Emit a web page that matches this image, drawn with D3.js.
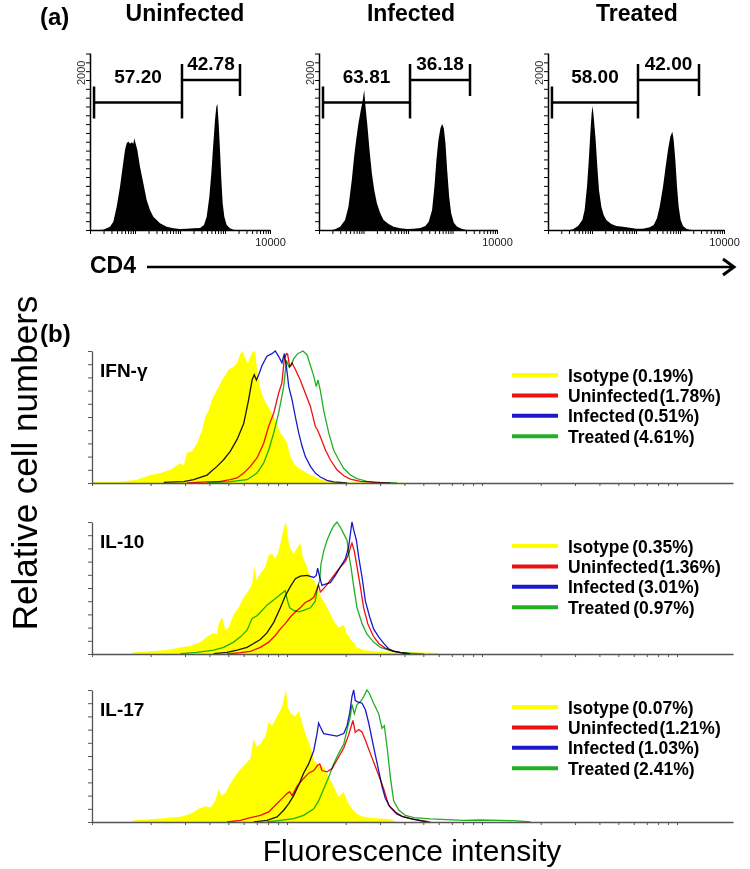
<!DOCTYPE html>
<html><head><meta charset="utf-8">
<script src="https://cdn.jsdelivr.net/npm/d3@7"></script>
<style>
body{margin:0;background:#fff}
svg{display:block}
text{font-family:"Liberation Sans",Arial,sans-serif}
</style>
</head><body>
<svg id="c" width="750" height="869"></svg>
<script>
// ================= DATA =================
// Panel (a): CD4 histograms. x = log10(CD4 intensity), y = cell count
const cd4Groups = ["Uninfected", "Infected", "Treated"];
const cd4Uninfected = [[0.20,0],[0.296,4],[0.444,44],[0.519,111],[0.593,311],[0.667,578],[0.726,844],[0.778,1067],[0.815,1156],[0.852,1180],[0.889,1150],[0.926,1170],[0.963,1150],[0.985,1222],[1.015,1150],[1.052,1067],[1.111,844],[1.185,622],[1.259,400],[1.333,267],[1.407,178],[1.556,89],[1.704,44],[1.852,22],[2.000,13],[2.148,18],[2.296,22],[2.444,27],[2.533,67],[2.593,178],[2.652,444],[2.696,756],[2.741,1156],[2.778,1467],[2.807,1644],[2.830,1680],[2.859,1422],[2.889,1067],[2.919,667],[2.948,356],[2.985,178],[3.037,67],[3.111,22],[3.185,4],[3.25,0]];
const cd4Infected = [[0.30,0],[0.361,9],[0.474,44],[0.586,133],[0.662,311],[0.737,667],[0.789,978],[0.835,1200],[0.887,1422],[0.940,1600],[0.977,1711],[1.015,1867],[1.045,1644],[1.090,1378],[1.135,1067],[1.188,756],[1.241,533],[1.301,356],[1.376,222],[1.451,133],[1.564,80],[1.677,44],[1.827,22],[1.977,13],[2.128,18],[2.278,27],[2.391,53],[2.466,111],[2.541,267],[2.594,578],[2.639,933],[2.684,1200],[2.729,1356],[2.767,1413],[2.805,1356],[2.842,1156],[2.880,800],[2.925,444],[2.970,222],[3.030,98],[3.105,44],[3.218,13],[3.293,4],[3.33,0]];
const cd4Treated = [[0.50,0],[0.568,9],[0.682,53],[0.780,133],[0.833,267],[0.886,578],[0.932,978],[0.962,1289],[0.992,1556],[1.015,1653],[1.045,1467],[1.083,1200],[1.121,844],[1.159,533],[1.212,311],[1.265,200],[1.326,133],[1.439,80],[1.553,53],[1.705,44],[1.856,31],[2.008,18],[2.159,18],[2.311,36],[2.402,67],[2.477,156],[2.538,311],[2.614,578],[2.674,844],[2.727,1067],[2.780,1244],[2.826,1311],[2.856,1200],[2.894,933],[2.932,578],[2.970,311],[3.015,133],[3.068,53],[3.144,18],[3.220,4],[3.26,0]];
// gates: [left start, split, right end] in CD4 intensity
const cd4Gates = [[1.23,110.7,2154],[1.23,111,2473],[1.23,111,2704]];
const cd4GateLevels = [1700, 2000];   // counts at which gate bars sit
const cd4Percents = [["57.20","42.78"],["63.81","36.18"],["58.00","42.00"]];
const cd4XTickLabels = [10000];
const cd4YTickLabels = [2000];

// Panel (b): cytokine overlays. x = log10(fluorescence), y = % of max
const cytokines = ["IFN-\u03b3", "IL-10", "IL-17"];
const overlayGroups = ["Isotype", "Uninfected", "Infected", "Treated"];

const isoIFN = [[0,1],[0.145,1],[0.231,2.5],[0.299,6],[0.350,7.5],[0.402,10],[0.453,15],[0.470,13],[0.487,23],[0.513,24],[0.538,30],[0.564,40],[0.581,50],[0.598,55],[0.615,63],[0.632,68],[0.650,73],[0.667,78],[0.684,82],[0.701,86],[0.726,88],[0.744,91],[0.761,98],[0.774,100],[0.786,94],[0.800,91],[0.812,96],[0.826,100],[0.838,99],[0.846,86],[0.860,73],[0.877,65],[0.894,60],[0.915,55],[0.932,50],[0.949,44],[0.966,38],[0.983,35],[1.000,30],[1.017,20],[1.034,15],[1.060,11],[1.085,9],[1.120,6],[1.154,4],[1.188,2],[1.239,1],[1.308,0.5],[1.479,0.3],[1.650,0]];
const uninfIFN = [[0.487,0],[0.590,0.8],[0.658,1.3],[0.709,2.5],[0.744,3.8],[0.778,7.5],[0.812,12.6],[0.846,19],[0.880,30],[0.906,43],[0.932,53],[0.957,68],[0.974,76],[0.986,94],[0.997,98],[1.003,97.7],[1.014,88],[1.026,91],[1.043,86],[1.068,78],[1.094,68],[1.120,58],[1.145,43],[1.157,40],[1.171,35],[1.197,25],[1.222,17.6],[1.256,10],[1.291,5.5],[1.325,3],[1.376,1.3],[1.444,0.5],[1.530,0]];
const infIFN = [[0.368,0.5],[0.470,1],[0.521,2.5],[0.590,6],[0.641,12.6],[0.675,17.6],[0.709,24],[0.744,33],[0.778,45],[0.803,63],[0.821,78],[0.832,82],[0.843,78],[0.855,82],[0.872,89],[0.897,96],[0.923,98],[0.940,100],[0.957,96],[0.974,91],[0.986,98],[0.997,88],[1.009,73],[1.026,63],[1.043,50],[1.060,38],[1.077,28],[1.094,20],[1.120,12.6],[1.145,7.5],[1.171,4.5],[1.205,2],[1.239,0.8],[1.308,0]];
const treatIFN = [[0.590,0],[0.709,1],[0.795,2.5],[0.846,7.5],[0.880,15],[0.906,25],[0.932,38],[0.957,53],[0.983,73],[0.997,93],[1.009,88],[1.021,89],[1.034,94],[1.055,98],[1.082,100],[1.103,97],[1.120,89],[1.137,81],[1.150,73],[1.159,78],[1.171,70],[1.188,55],[1.214,38],[1.239,25],[1.265,17.6],[1.291,11],[1.325,6],[1.359,3.3],[1.410,1.3],[1.479,0.5],[1.564,0]];

const isoIL10 = [[0.20,0],[0.214,1.3],[0.299,2],[0.385,3],[0.453,5],[0.504,6],[0.556,9],[0.590,13],[0.624,16],[0.641,15],[0.650,23],[0.667,28],[0.684,18],[0.701,20],[0.726,30],[0.752,35],[0.778,43],[0.803,48],[0.821,53],[0.832,66],[0.843,56],[0.863,61],[0.889,66],[0.906,75],[0.923,76],[0.940,72],[0.957,78],[0.974,89],[0.986,97],[0.995,100],[1.003,89],[1.014,81],[1.034,76],[1.055,81],[1.068,84],[1.082,73],[1.103,66],[1.120,58],[1.137,56],[1.154,51],[1.171,44],[1.188,40],[1.214,33],[1.239,25],[1.265,20],[1.291,22],[1.308,15],[1.333,10],[1.359,5],[1.393,3],[1.444,2],[1.513,1.3],[1.581,1],[1.650,1.3],[1.769,1],[1.786,0]];
const uninfIL10 = [[0.692,0],[0.761,1],[0.812,2],[0.863,5],[0.906,9],[0.940,14],[0.966,19],[0.991,23],[1.017,28],[1.043,32],[1.068,35],[1.094,39],[1.120,41],[1.137,43],[1.154,49],[1.162,52],[1.171,47],[1.197,51],[1.222,56],[1.248,61],[1.274,66],[1.299,70],[1.316,76],[1.328,82],[1.333,84],[1.345,78],[1.359,66],[1.376,51],[1.393,35],[1.414,23],[1.441,14],[1.470,8],[1.504,4.5],[1.538,2.5],[1.581,1],[1.632,0]];
const infIL10 = [[0.624,0.3],[0.692,1.3],[0.744,3],[0.795,5],[0.829,8],[0.863,11],[0.897,16],[0.932,24],[0.966,35],[0.991,44],[1.017,51],[1.043,57],[1.068,59],[1.103,59.5],[1.137,58],[1.150,59.5],[1.157,65],[1.168,58],[1.179,52],[1.197,53],[1.222,54],[1.248,59.5],[1.274,66],[1.299,72],[1.316,81],[1.325,91],[1.333,100],[1.342,94],[1.356,86],[1.368,73],[1.385,58],[1.402,40],[1.424,28],[1.444,19],[1.470,13],[1.496,8],[1.521,4],[1.547,2],[1.581,1],[1.632,0]];
const treatIL10 = [[0.453,0.3],[0.538,1.3],[0.624,3],[0.675,5],[0.726,9],[0.761,13],[0.795,18],[0.821,27],[0.846,29],[0.872,33],[0.897,37],[0.923,40],[0.949,43],[0.974,46],[0.991,48],[1.003,40],[1.014,35],[1.034,33],[1.060,32],[1.085,33],[1.120,35],[1.145,40],[1.157,51],[1.168,56],[1.174,68],[1.188,78],[1.205,86],[1.222,92],[1.239,97],[1.256,100],[1.274,96],[1.291,91],[1.308,86],[1.316,76],[1.328,66],[1.342,51],[1.359,35],[1.385,23],[1.410,15],[1.444,9],[1.479,5],[1.530,2.5],[1.581,1.3],[1.650,0.5],[1.701,0]];

const isoIL17 = [[0.20,0],[0.214,1.3],[0.299,2],[0.385,3],[0.453,4],[0.504,6],[0.547,10],[0.581,12],[0.607,11],[0.632,16],[0.650,25],[0.662,20],[0.684,22],[0.709,29],[0.735,35],[0.761,40],[0.786,44],[0.812,48],[0.829,63],[0.843,57],[0.863,59],[0.889,65],[0.906,76],[0.923,73],[0.949,80],[0.974,87],[0.986,95],[0.995,100],[1.003,87],[1.021,82],[1.043,80],[1.060,84],[1.072,78],[1.094,67],[1.120,57],[1.137,47],[1.162,43],[1.188,42],[1.214,34],[1.239,27],[1.265,19],[1.291,23],[1.308,16],[1.333,10],[1.359,6],[1.393,4],[1.444,3],[1.496,2.5],[1.530,2],[1.564,0]];
const uninfIL17 = [[0.692,0],[0.761,1.3],[0.812,3.3],[0.863,5],[0.906,7.6],[0.940,12.7],[0.974,17.7],[1.000,21.5],[1.014,23],[1.026,20],[1.051,27],[1.085,33],[1.111,37],[1.137,39],[1.157,43],[1.168,44],[1.179,39],[1.205,38],[1.231,40.5],[1.256,47],[1.291,56],[1.316,66],[1.328,72],[1.338,77],[1.350,68],[1.368,70],[1.385,68],[1.402,62],[1.427,52],[1.453,42],[1.479,32],[1.496,25],[1.521,12.7],[1.556,7.6],[1.590,4.3],[1.632,2.5],[1.684,1.3],[1.735,0]];
const infIL17 = [[0.829,0],[0.897,1.3],[0.949,3.8],[0.983,8.9],[1.009,14],[1.034,20],[1.060,28],[1.085,37],[1.111,44],[1.137,54],[1.154,67],[1.162,75],[1.171,72],[1.188,67],[1.222,66],[1.256,65],[1.291,67],[1.308,73],[1.321,82],[1.333,95],[1.342,100],[1.350,92],[1.362,91],[1.385,90],[1.402,85],[1.419,75],[1.444,57],[1.470,39],[1.487,27],[1.504,18],[1.530,11],[1.564,6],[1.598,3.8],[1.650,2],[1.718,0]];
const treatIL17 = [[0.897,0],[0.966,1.3],[1.034,2.5],[1.085,5],[1.137,10],[1.162,16],[1.188,25],[1.214,34],[1.239,44],[1.265,52],[1.291,59],[1.308,70],[1.325,80],[1.333,89],[1.345,82],[1.359,89],[1.376,91],[1.393,95],[1.410,100],[1.424,97],[1.444,90],[1.470,82],[1.487,71],[1.499,73],[1.513,57],[1.530,34],[1.547,16],[1.573,9],[1.607,5],[1.650,3.3],[1.735,2.3],[1.821,1.8],[1.906,1.3],[1.991,1.5],[2.162,1],[2.25,0]];

const legendPercents = [
  ["0.19","1.78","0.51","4.61"],
  ["0.35","1.36","3.01","0.97"],
  ["0.07","1.21","1.03","2.41"]
];
const overlayYTicks = [0,10,20,30,40,50,60,70,80,90,100];

// ================= DRAW =================
const svg = d3.select("#c");
const FONT = '"Liberation Sans", Arial, sans-serif';

function logTicks(maxV){
  const out=[];
  for(let k=0; Math.pow(10,k) <= maxV; k++){
    for(let m=1;m<=9;m++){
      const v=Math.round(m*Math.pow(10,k));
      if(v<=maxV) out.push(v);
    }
  }
  return out;
}

// ---------- Panel (a) ----------
svg.append("text").attr("x",40).attr("y",25).attr("font-size",24).attr("font-weight","bold").text("(a)");
const aBoxes=[{x0:90,x1:270,cx:185},{x0:319,x1:497,cx:411},{x0:548,x1:724,cx:637}];
const aTop=53, aBot=230;
const cd4Hist=[cd4Uninfected, cd4Infected, cd4Treated];

cd4Groups.forEach((g,i)=>{
  const b=aBoxes[i];
  const x=d3.scaleLog().domain([1,10000]).range([b.x0,b.x1]);
  const y=d3.scaleLinear().domain([0,2360]).range([aBot,aTop]);
  const G=svg.append("g");
  G.append("text").attr("x",b.cx).attr("y",21).attr("text-anchor","middle")
    .attr("font-size",23).attr("font-weight","bold").text(g);
  G.append("path").datum(cd4Hist[i])
    .attr("d",d3.area().x(d=>x(Math.pow(10,d[0]))).y0(aBot).y1(d=>y(d[1])))
    .attr("fill","#000");
  const xa=G.append("g").attr("transform",`translate(0,${aBot})`)
    .call(d3.axisBottom(x).tickValues(logTicks(10000)).tickSize(4).tickSizeOuter(0)
      .tickFormat(d=>cd4XTickLabels.includes(d)?String(d):""));
  xa.select(".domain").attr("stroke","#000").attr("stroke-width",1.5);
  xa.selectAll(".tick line").attr("stroke","#000").attr("stroke-width",1);
  xa.selectAll("text").attr("font-size",11).attr("font-family",FONT).attr("fill","#222").attr("dy","0.85em");
  const ya=G.append("g").attr("transform",`translate(${b.x0},0)`)
    .call(d3.axisLeft(y).tickValues(d3.range(0,2360,2000/17)).tickSize(4).tickSizeOuter(0).tickFormat(""));
  ya.select(".domain").attr("stroke","#000").attr("stroke-width",1.5);
  ya.selectAll(".tick line").attr("stroke","#000").attr("stroke-width",1);
  cd4YTickLabels.forEach(v=>{
    G.append("text").attr("transform",`translate(${b.x0-5},${y(v)+5}) rotate(-90)`)
      .attr("font-size",11).attr("fill","#333").text(String(v));
  });
  // gates
  const [L,M,R]=cd4Gates[i];
  const yl=y(cd4GateLevels[0]), yr=y(cd4GateLevels[1]), c=16;
  const gate=G.append("g").attr("stroke","#000").attr("stroke-width",2.5).attr("fill","none");
  gate.append("line").attr("x1",x(L)).attr("x2",x(M)).attr("y1",yl).attr("y2",yl);
  gate.append("line").attr("x1",x(M)).attr("x2",x(R)).attr("y1",yr).attr("y2",yr);
  gate.append("line").attr("x1",x(L)).attr("x2",x(L)).attr("y1",yl-c).attr("y2",yl+c);
  gate.append("line").attr("x1",x(M)).attr("x2",x(M)).attr("y1",yr-c).attr("y2",yl+c);
  gate.append("line").attr("x1",x(R)).attr("x2",x(R)).attr("y1",yr-c).attr("y2",yr+c);
  G.append("text").attr("x",(x(L)+x(M))/2).attr("y",yl-20).attr("text-anchor","middle")
    .attr("font-size",19).attr("font-weight","bold").text(cd4Percents[i][0]);
  G.append("text").attr("x",(x(M)+x(R))/2).attr("y",yr-10).attr("text-anchor","middle")
    .attr("font-size",19).attr("font-weight","bold").text(cd4Percents[i][1]);
});
// CD4 arrow
svg.append("text").attr("x",90).attr("y",273).attr("font-size",23).attr("font-weight","bold").text("CD4");
svg.append("line").attr("x1",147).attr("x2",733).attr("y1",267).attr("y2",267).attr("stroke","#000").attr("stroke-width",2.5);
svg.append("polyline").attr("points","723,259 734,267 723,275").attr("fill","none").attr("stroke","#000").attr("stroke-width",3);

// ---------- Panel (b) ----------
svg.append("text").attr("x",40).attr("y",342).attr("font-size",24).attr("font-weight","bold").text("(b)");
svg.append("text").attr("transform","translate(37,463) rotate(-90)").attr("text-anchor","middle")
  .attr("font-size",35).text("Relative cell numbers");
svg.append("text").attr("x",412).attr("y",861).attr("text-anchor","middle")
  .attr("font-size",30).text("Fluorescence intensity");

const overlayData=[
  [isoIFN, uninfIFN, infIFN, treatIFN],
  [isoIL10, uninfIL10, infIL10, treatIL10],
  [isoIL17, uninfIL17, infIL17, treatIL17]
];
const colors=["#ffff00","#ee1111","#1a1acc","#22b022"];
const bTops=[351,522,690], bH=132, bX0=92, bX1=733;
const legendOff=[24,24,17];
const bxMax=Math.pow(10,3.287);
const bx=d3.scaleLog().domain([1,bxMax]).range([bX0,bX1]);

cytokines.forEach((cyt,p)=>{
  const top=bTops[p], bot=top+bH;
  const y=d3.scaleLinear().domain([0,100]).range([bot,top]);
  const G=svg.append("g");
  const [iso,...lines]=overlayData[p];
  G.append("path").datum(iso)
    .attr("d",d3.area().x(d=>bx(Math.pow(10,d[0]))).y0(bot).y1(d=>y(d[1])))
    .attr("fill",colors[0]);
  lines.forEach((s,k)=>{
    G.append("path").datum(s)
      .attr("d",d3.line().x(d=>bx(Math.pow(10,d[0]))).y(d=>y(d[1])))
      .attr("fill","none").attr("stroke",colors[k+1]).attr("stroke-width",1.3)
      .style("mix-blend-mode","multiply");
  });
  const xa=G.append("g").attr("transform",`translate(0,${bot})`)
    .call(d3.axisBottom(bx).tickValues(logTicks(bxMax)).tickSize(3).tickSizeOuter(0).tickFormat(""));
  xa.select(".domain").attr("stroke","#555").attr("stroke-width",1.3);
  xa.selectAll(".tick line").attr("stroke","#555");
  const ya=G.append("g").attr("transform",`translate(${bX0},0)`)
    .call(d3.axisLeft(y).tickValues(overlayYTicks).tickSize(4).tickSizeOuter(0).tickFormat(""));
  ya.select(".domain").attr("stroke","#555").attr("stroke-width",1.3);
  ya.selectAll(".tick line").attr("stroke","#555");
  G.append("text").attr("x",100).attr("y",top+26).attr("font-size",19).attr("font-weight","bold").text(cyt);
  // legend
  overlayGroups.forEach((g,r)=>{
    const ly=top+legendOff[p]+r*20.4;
    G.append("line").attr("x1",512).attr("x2",558).attr("y1",ly).attr("y2",ly)
      .attr("stroke",colors[r]).attr("stroke-width",4);
    const t=G.append("text").attr("x",568).attr("y",ly+6.5).attr("font-size",17.5).attr("font-weight","bold");
    t.append("tspan").text(g);
    t.append("tspan").attr("dx",g==="Uninfected"?1:3).text("("+legendPercents[p][r]+"%)");
  });
});
</script>
</body></html>
